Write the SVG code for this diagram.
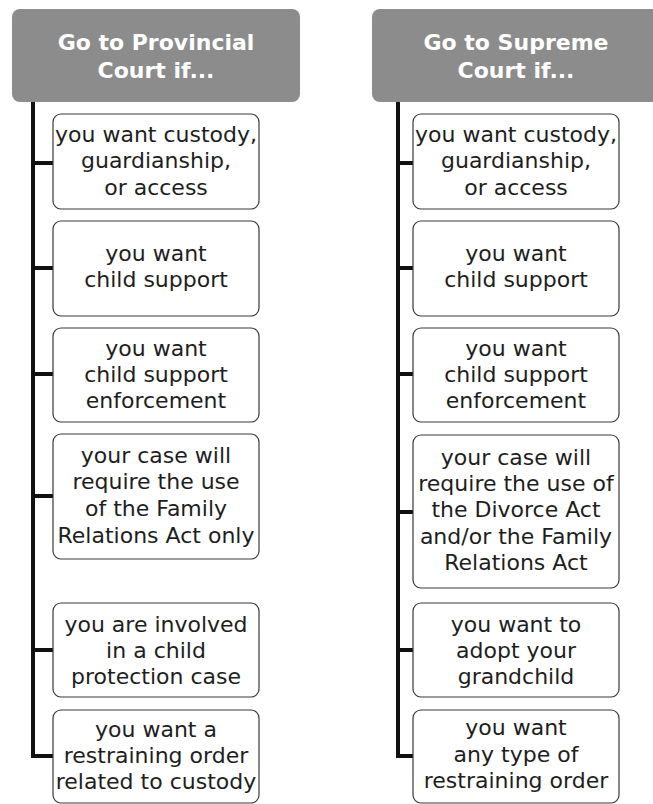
<svg xmlns="http://www.w3.org/2000/svg" width="653" height="804" viewBox="0 0 653 804">
<style>
.hdr{fill:#8c8c8c}
.ht{font-family:"DejaVu Sans","Open Sans",sans-serif;font-weight:bold;font-size:22px;fill:#ffffff;text-anchor:middle}
.box{fill:#ffffff;stroke:#3a3a3a;stroke-width:1.2}
.t{font-family:"DejaVu Sans","Open Sans",sans-serif;font-size:22px;fill:#1e1e1e;text-anchor:middle}
.ln{stroke:#111;stroke-width:4;fill:none}
</style>
<rect width="653" height="804" fill="#ffffff"/>
<g id="connectors">
<path class="ln" d="M33,102 V758 M31,163 H53 M31,268 H53 M31,374 H53 M31,496 H53 M31,650 H53 M31,756 H53"/>
<path class="ln" d="M398,102 V758 M396,163 H413 M396,268 H413 M396,374 H413 M396,512 H413 M396,650 H413 M396,756 H413"/>
</g>
<g id="hdr-provincial">
<rect class="hdr" x="12" y="9" width="288" height="93" rx="8"/>
<text class="ht" x="156" y="50">Go to Provincial</text>
<text class="ht" x="156" y="78">Court if...</text>
</g>
<g id="hdr-supreme">
<rect class="hdr" x="372" y="9" width="290" height="93" rx="8"/>
<text class="ht" x="516" y="50">Go to Supreme</text>
<text class="ht" x="516" y="78">Court if...</text>
</g>
<g id="p1"><rect class="box" x="53" y="114" width="206" height="95" rx="8"/>
<text class="t" x="156" y="142">you want custody,</text><text class="t" x="156" y="168">guardianship,</text><text class="t" x="156" y="195">or access</text></g>
<g id="p2"><rect class="box" x="53" y="221" width="206" height="95" rx="8"/>
<text class="t" x="156" y="261">you want</text><text class="t" x="156" y="287">child support</text></g>
<g id="p3"><rect class="box" x="53" y="328" width="206" height="94" rx="8"/>
<text class="t" x="156" y="356">you want</text><text class="t" x="156" y="382">child support</text><text class="t" x="156" y="408">enforcement</text></g>
<g id="p4"><rect class="box" x="53" y="434" width="206" height="125" rx="8"/>
<text class="t" x="156" y="463">your case will</text><text class="t" x="156" y="489">require the use</text><text class="t" x="156" y="516">of the Family</text><text class="t" x="156" y="543">Relations Act only</text></g>
<g id="p5"><rect class="box" x="53" y="603" width="206" height="94" rx="8"/>
<text class="t" x="156" y="632">you are involved</text><text class="t" x="156" y="658">in a child</text><text class="t" x="156" y="684">protection case</text></g>
<g id="p6"><rect class="box" x="53" y="710" width="206" height="93" rx="8"/>
<text class="t" x="156" y="737">you want a</text><text class="t" x="156" y="763">restraining order</text><text class="t" x="156" y="789">related to custody</text></g>
<g id="s1"><rect class="box" x="413" y="114" width="206" height="95" rx="8"/>
<text class="t" x="516" y="142">you want custody,</text><text class="t" x="516" y="168">guardianship,</text><text class="t" x="516" y="195">or access</text></g>
<g id="s2"><rect class="box" x="413" y="221" width="206" height="95" rx="8"/>
<text class="t" x="516" y="261">you want</text><text class="t" x="516" y="287">child support</text></g>
<g id="s3"><rect class="box" x="413" y="328" width="206" height="94" rx="8"/>
<text class="t" x="516" y="356">you want</text><text class="t" x="516" y="382">child support</text><text class="t" x="516" y="408">enforcement</text></g>
<g id="s4"><rect class="box" x="413" y="435" width="206" height="153" rx="8"/>
<text class="t" x="516" y="465">your case will</text><text class="t" x="516" y="491">require the use of</text><text class="t" x="516" y="517">the Divorce Act</text><text class="t" x="516" y="544">and/or the Family</text><text class="t" x="516" y="570">Relations Act</text></g>
<g id="s5"><rect class="box" x="413" y="603" width="206" height="94" rx="8"/>
<text class="t" x="516" y="632">you want to</text><text class="t" x="516" y="658">adopt your</text><text class="t" x="516" y="684">grandchild</text></g>
<g id="s6"><rect class="box" x="413" y="710" width="206" height="93" rx="8"/>
<text class="t" x="516" y="735">you want</text><text class="t" x="516" y="762">any type of</text><text class="t" x="516" y="788">restraining order</text></g>
</svg>
